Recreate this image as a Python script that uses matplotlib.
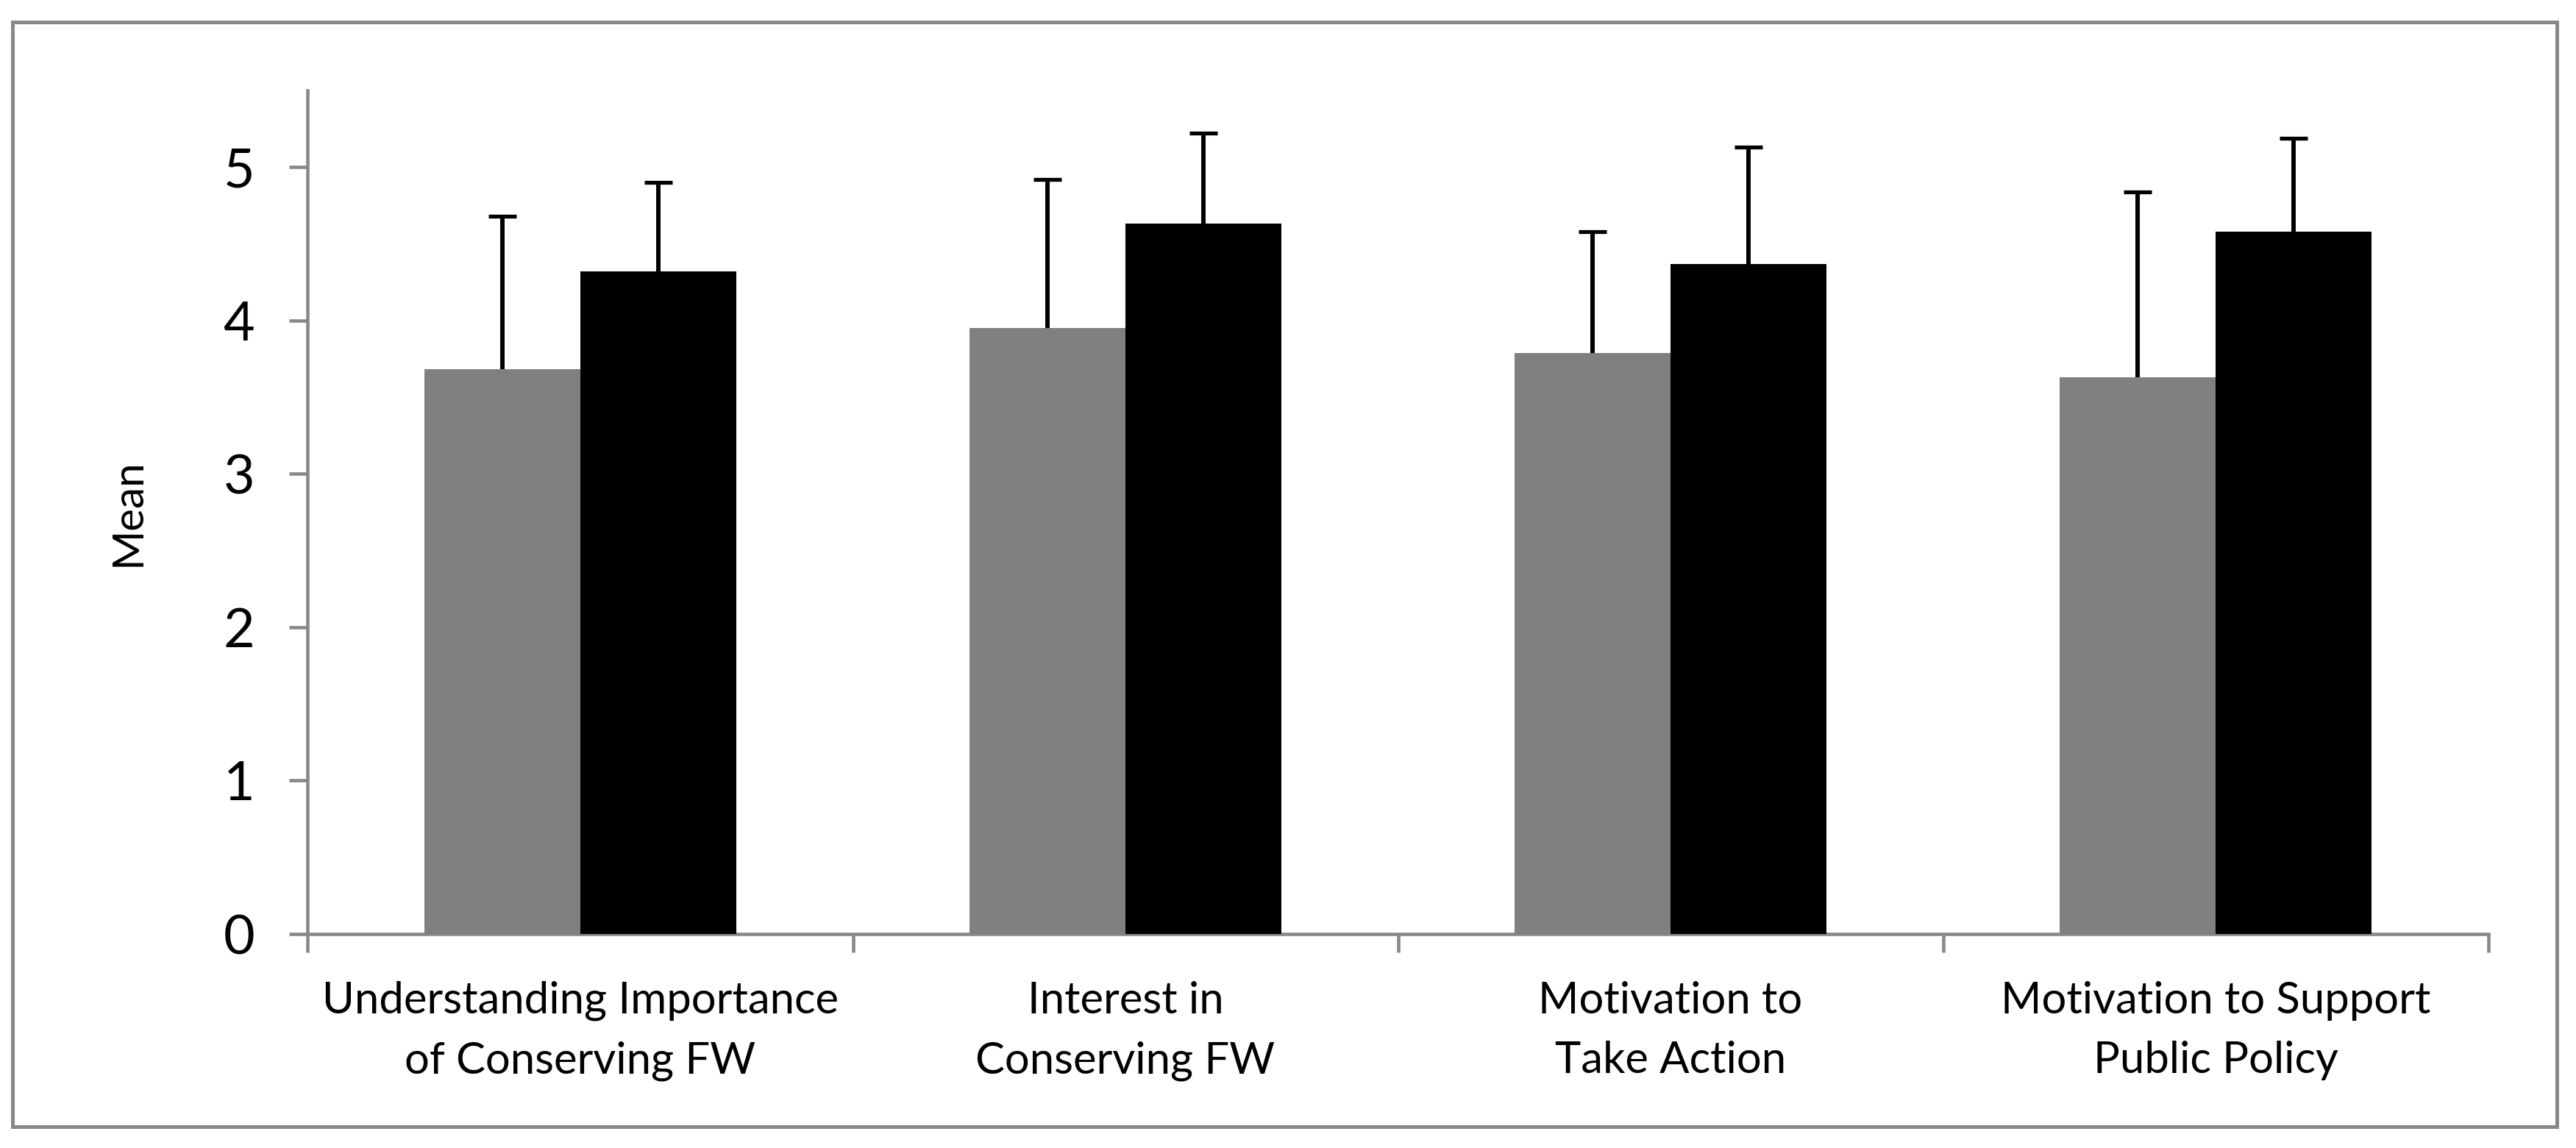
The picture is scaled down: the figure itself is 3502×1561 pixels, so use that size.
import matplotlib
matplotlib.use('Agg')
import matplotlib.pyplot as plt
import numpy as np
from matplotlib.patches import Rectangle

plt.rcParams['font.family'] = ['Lato', 'DejaVu Sans']

categories = ['Understanding Importance\nof Conserving FW',
              'Interest in\nConserving FW',
              'Motivation to\nTake Action',
              'Motivation to Support\nPublic Policy']
gray_means = [3.68, 3.95, 3.79, 3.63]
gray_err = [1.00, 0.97, 0.79, 1.21]
black_means = [4.32, 4.63, 4.37, 4.58]
black_err = [0.58, 0.59, 0.76, 0.61]
y_ticks = [0, 1, 2, 3, 4, 5]

axis_color = '#888888'

fig = plt.figure(figsize=(35.02, 15.61), dpi=100)
ax = fig.add_axes([0.1195, 0.1864, 0.8464, 0.7349])

x = np.arange(len(categories))
w = 0.2857

# bars sit on top of the error bars so only the upper half shows
ax.bar(x - w / 2, gray_means, w, color='#808080', zorder=3)
ax.bar(x + w / 2, black_means, w, color='black', zorder=3)
ax.errorbar(x - w / 2, gray_means, yerr=gray_err, fmt='none', ecolor='black',
            elinewidth=4.3, capsize=13.7, capthick=3.8, zorder=2)
ax.errorbar(x + w / 2, black_means, yerr=black_err, fmt='none', ecolor='black',
            elinewidth=4.3, capsize=13.7, capthick=3.8, zorder=2)

ax.set_xlim(-0.5, len(categories) - 0.5)
ax.set_ylim(0, 5.5)

# boundary ticks without labels, category labels on minor ticks
ax.set_xticks(np.arange(len(categories) + 1) - 0.5)
ax.set_xticklabels([])
ax.set_xticks(x, minor=True)
ax.set_xticklabels(categories, minor=True, fontsize=43, linespacing=1.62)
ax.tick_params(axis='x', which='major', direction='out', length=18, width=3.3,
               color=axis_color)
ax.tick_params(axis='x', which='minor', length=0, pad=46)

ax.set_yticks(y_ticks)
ax.set_yticklabels([str(t) for t in y_ticks], fontsize=53)
ax.tick_params(axis='y', direction='out', length=18, width=3.3,
               color=axis_color, pad=34)

ax.set_ylabel('Mean', fontsize=42, labelpad=74)

for side in ['top', 'right']:
    ax.spines[side].set_visible(False)
for side in ['left', 'bottom']:
    ax.spines[side].set_color(axis_color)
    ax.spines[side].set_linewidth(3.3)

# outer chart border
fig.patches.append(Rectangle((0.0049, 0.0186), 0.9877, 0.9622, transform=fig.transFigure,
                             fill=False, edgecolor=axis_color, linewidth=3.6))

fig.savefig('out.png', dpi=100)
